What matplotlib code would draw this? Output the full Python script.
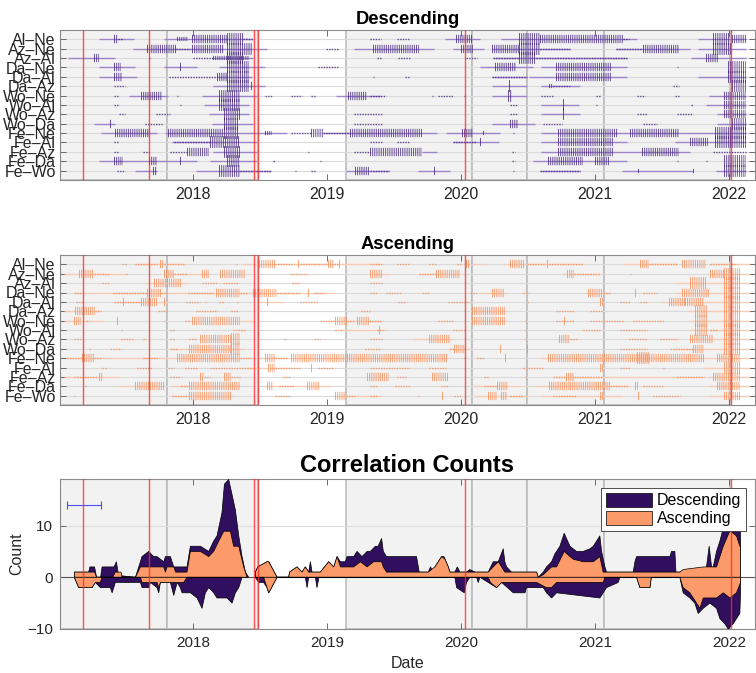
import numpy as np
import matplotlib.pyplot as plt

plt.rcParams['font.family'] = ['Liberation Sans', 'DejaVu Sans']
plt.rcParams['lines.scale_dashes'] = False

pairs = ['Al–Ne', 'Az–Ne', 'Az–Al', 'Da–Ne', 'Da–Al', 'Da–Az', 'Wo–Ne', 'Wo–Al',
         'Wo–Az', 'Wo–Da', 'Fe–Ne', 'Fe–Al', 'Fe–Az', 'Fe–Da', 'Fe–Wo']
years = [2018, 2019, 2020, 2021, 2022]

# background periods (grey) and marker dates (red)
shade_spans = [(2017.0, 2017.806), (2017.806, 2018.483), (2019.142, 2020.079),
               (2020.079, 2020.489), (2020.489, 2021.069), (2021.069, 2022.007)]
red_dates = [2017.177, 2017.669, 2018.453, 2018.483, 2020.029, 2022.014]

# descending: (row, start, end) connecting lines
desc_lines = [
    (1, 2017.30, 2017.56), (1, 2017.78, 2018.45), (1, 2019.88, 2020.14), (1, 2020.30, 2021.31), (1, 2021.77, 2022.13),
    (2, 2017.55, 2018.55), (2, 2019.20, 2019.80), (2, 2019.94, 2020.17), (2, 2020.23, 2020.81), (2, 2021.16, 2021.71), (2, 2021.77, 2022.13),
    (3, 2017.07, 2017.42), (3, 2018.15, 2018.45), (3, 2020.24, 2021.24), (3, 2021.72, 2022.13),
    (4, 2017.30, 2017.57), (4, 2017.78, 2018.03), (4, 2018.19, 2018.54), (4, 2020.14, 2020.54), (4, 2020.60, 2021.24),
    (5, 2017.30, 2017.58), (5, 2018.18, 2018.44), (5, 2020.23, 2020.49), (5, 2020.51, 2021.24), (5, 2021.77, 2022.13),
    (6, 2018.15, 2018.54), (6, 2020.23, 2020.49), (6, 2020.60, 2020.89),
    (7, 2017.52, 2017.81), (7, 2018.07, 2018.48), (7, 2019.07, 2019.40), (7, 2020.23, 2020.49), (7, 2021.85, 2022.13),
    (8, 2018.08, 2018.42), (8, 2020.60, 2020.88), (8, 2021.83, 2022.13),
    (9, 2018.12, 2018.42), (9, 2020.60, 2020.89), (9, 2021.91, 2022.13),
    (10, 2017.26, 2017.42), (10, 2018.14, 2018.45), (10, 2020.23, 2020.55), (10, 2021.91, 2022.13),
    (11, 2017.31, 2017.73), (11, 2017.79, 2018.70), (11, 2018.97, 2019.82), (11, 2019.89, 2020.29), (11, 2020.60, 2022.13),
    (12, 2017.84, 2018.48), (12, 2019.94, 2020.28), (12, 2020.60, 2021.24), (12, 2021.60, 2022.13),
    (13, 2018.15, 2018.48), (13, 2019.71, 2019.82), (13, 2020.60, 2021.71),
    (14, 2017.30, 2018.03), (14, 2018.13, 2018.48), (14, 2020.54, 2021.24),
    (15, 2017.57, 2017.73), (15, 2018.02, 2018.58), (15, 2019.14, 2019.46), (15, 2019.68, 2019.92),
    (15, 2020.59, 2020.89), (15, 2021.20, 2021.73), (15, 2021.90, 2022.13),
]

# descending: (row, start, end, kind) d=dots, s=short, m=medium, t=tall ticks
desc_marks = [
    (1, 2017.41, 2017.44, 'm'), (1, 2017.44, 2017.47, 'd'), (1, 2017.88, 2017.96, 's'), (1, 2017.99, 2018.25, 'm'),
    (1, 2018.25, 2018.37, 't'), (1, 2018.37, 2018.44, 'd'), (1, 2019.32, 2019.40, 'd'), (1, 2019.52, 2019.62, 'd'),
    (1, 2019.96, 2020.09, 'm'), (1, 2020.43, 2020.59, 't'), (1, 2020.59, 2021.21, 'm'), (1, 2021.21, 2021.25, 'd'),
    (1, 2021.88, 2022.00, 't'), (1, 2022.02, 2022.13, 'm'),
    (2, 2017.66, 2017.87, 'm'), (2, 2017.87, 2017.98, 'd'), (2, 2017.99, 2018.23, 'm'), (2, 2018.25, 2018.44, 't'),
    (2, 2018.99, 2019.09, 'd'), (2, 2019.34, 2019.69, 'm'), (2, 2020.00, 2020.09, 'm'), (2, 2020.23, 2020.43, 'm'),
    (2, 2020.43, 2020.59, 't'), (2, 2020.59, 2020.81, 'd'), (2, 2021.16, 2021.36, 'd'), (2, 2021.36, 2021.63, 'm'),
    (2, 2021.88, 2022.02, 't'),
    (3, 2017.26, 2017.30, 'm'), (3, 2017.67, 2017.67, 'd'), (3, 2018.00, 2018.15, 'd'), (3, 2018.15, 2018.42, 's'),
    (3, 2018.25, 2018.37, 't'), (3, 2019.37, 2019.41, 'd'), (3, 2019.53, 2019.62, 'd'), (3, 2020.04, 2020.12, 'd'),
    (3, 2020.24, 2020.43, 'd'), (3, 2020.43, 2020.56, 't'), (3, 2020.56, 2021.24, 'd'), (3, 2021.83, 2021.92, 'm'),
    (4, 2017.41, 2017.46, 'm'), (4, 2017.90, 2017.91, 'm'), (4, 2018.25, 2018.42, 't'), (4, 2018.93, 2019.09, 'd'),
    (4, 2020.25, 2020.41, 'm'), (4, 2020.71, 2021.13, 'm'), (4, 2021.61, 2021.61, 'd'), (4, 2021.99, 2022.13, 't'),
    (5, 2017.41, 2017.47, 'm'), (5, 2017.82, 2018.18, 'd'), (5, 2018.18, 2018.25, 'm'), (5, 2018.25, 2018.42, 't'),
    (5, 2019.34, 2019.34, 'd'), (5, 2019.58, 2019.62, 'd'), (5, 2020.23, 2020.49, 'd'), (5, 2020.71, 2021.13, 'm'),
    (5, 2021.99, 2022.13, 't'),
    (6, 2017.41, 2017.49, 'd'), (6, 2018.25, 2018.42, 't'), (6, 2018.43, 2018.43, 'm'), (6, 2020.36, 2020.36, 't'),
    (6, 2020.66, 2020.69, 's'), (6, 2020.69, 2020.81, 'd'), (6, 2021.58, 2021.63, 'd'), (6, 2022.02, 2022.13, 't'),
    (7, 2017.41, 2017.45, 'd'), (7, 2017.61, 2017.77, 'm'), (7, 2017.88, 2017.88, 'd'), (7, 2018.19, 2018.35, 't'),
    (7, 2018.54, 2018.59, 'd'), (7, 2018.73, 2018.81, 'd'), (7, 2018.88, 2018.91, 'd'), (7, 2019.16, 2019.30, 'm'),
    (7, 2019.32, 2019.44, 'd'), (7, 2019.78, 2019.78, 'd'), (7, 2019.83, 2019.94, 'd'), (7, 2020.02, 2020.02, 'd'),
    (7, 2020.35, 2020.38, 't'), (7, 2020.60, 2020.69, 'd'), (7, 2021.01, 2021.04, 'd'), (7, 2021.31, 2021.37, 'd'),
    (7, 2021.60, 2021.63, 'd'), (7, 2021.96, 2022.13, 'm'),
    (8, 2017.41, 2017.44, 'd'), (8, 2017.905, 2017.905, 'd'), (8, 2018.19, 2018.35, 't'), (8, 2020.365, 2020.415, 'd'),
    (8, 2020.758, 2020.758, 't'), (8, 2021.01, 2021.01, 'd'), (8, 2021.72, 2021.72, 'd'), (8, 2021.96, 2022.13, 'm'),
    (9, 2017.445, 2017.49, 'd'), (9, 2017.72, 2017.83, 'd'), (9, 2018.23, 2018.35, 't'), (9, 2019.20, 2019.41, 'd'),
    (9, 2020.365, 2020.415, 'd'), (9, 2020.758, 2020.758, 't'), (9, 2021.31, 2021.385, 'd'), (9, 2021.61, 2021.73, 'd'),
    (9, 2021.96, 2022.13, 'm'),
    (10, 2017.38, 2017.38, 'm'), (10, 2017.64, 2017.77, 'd'), (10, 2018.23, 2018.34, 't'), (10, 2019.20, 2019.41, 'd'),
    (10, 2020.365, 2020.427, 'm'), (10, 2020.61, 2020.75, 'd'), (10, 2021.36, 2021.46, 'd'), (10, 2022.02, 2022.13, 't'),
    (11, 2017.42, 2017.68, 'm'), (11, 2017.81, 2018.23, 'm'), (11, 2018.23, 2018.34, 't'), (11, 2018.54, 2018.59, 's'),
    (11, 2018.73, 2018.88, 'd'), (11, 2018.88, 2018.97, 'm'), (11, 2018.97, 2019.17, 'd'), (11, 2019.17, 2019.71, 'm'),
    (11, 2020.01, 2020.09, 'm'), (11, 2020.166, 2020.166, 's'), (11, 2020.39, 2020.39, 'd'), (11, 2020.725, 2021.17, 'm'),
    (11, 2021.26, 2021.63, 'm'), (11, 2021.895, 2022.13, 't'),
    (12, 2017.41, 2017.445, 'd'), (12, 2017.86, 2018.13, 'd'), (12, 2018.13, 2018.34, 't'), (12, 2019.32, 2019.41, 'd'),
    (12, 2019.52, 2019.62, 'd'), (12, 2019.94, 2020.11, 'd'), (12, 2020.14, 2020.14, 'm'), (12, 2020.725, 2021.14, 'm'),
    (12, 2021.71, 2021.845, 'm'), (12, 2021.895, 2022.13, 't'),
    (13, 2017.41, 2017.445, 'd'), (13, 2017.63, 2017.68, 'd'), (13, 2017.83, 2017.955, 'd'), (13, 2017.955, 2018.12, 'm'),
    (13, 2018.23, 2018.35, 't'), (13, 2018.86, 2018.86, 'd'), (13, 2019.20, 2019.32, 'd'), (13, 2019.32, 2019.71, 'm'),
    (13, 2020.377, 2020.40, 'd'), (13, 2020.725, 2021.14, 'm'), (13, 2021.35, 2021.63, 'm'), (13, 2021.88, 2022.13, 'd'),
    (14, 2017.41, 2017.48, 'm'), (14, 2017.67, 2017.73, 'm'), (14, 2017.905, 2017.905, 'm'), (14, 2018.25, 2018.35, 't'),
    (14, 2018.60, 2018.60, 'd'), (14, 2018.95, 2018.95, 'd'), (14, 2020.377, 2020.40, 'd'), (14, 2020.65, 2020.91, 'm'),
    (14, 2021.00, 2021.11, 'm'), (14, 2021.61, 2021.61, 'd'), (14, 2021.83, 2021.83, 'd'), (14, 2021.96, 2022.13, 't'),
    (15, 2017.43, 2017.49, 'd'), (15, 2017.70, 2017.73, 'm'), (15, 2018.19, 2018.35, 't'), (15, 2018.35, 2018.58, 'd'),
    (15, 2018.76, 2018.76, 'd'), (15, 2018.88, 2018.91, 'd'), (15, 2019.21, 2019.32, 'm'), (15, 2019.32, 2019.46, 'd'),
    (15, 2019.80, 2019.80, 'm'), (15, 2020.39, 2020.39, 'd'), (15, 2020.59, 2020.89, 'd'), (15, 2021.32, 2021.335, 's'),
    (15, 2021.733, 2021.733, 's'), (15, 2021.96, 2022.13, 't'),
]

asc_lines = [
    (1, 2017.57, 2017.93), (1, 2018.37, 2019.40), (1, 2020.04, 2020.19), (1, 2020.31, 2020.91), (1, 2021.20, 2021.61), (1, 2021.86, 2022.16),
    (2, 2017.04, 2017.51), (2, 2017.78, 2018.13), (2, 2019.32, 2019.47), (2, 2019.69, 2019.99), (2, 2020.75, 2021.04), (2, 2021.86, 2022.16),
    (3, 2017.66, 2017.96), (3, 2021.60, 2022.16),
    (4, 2017.11, 2018.55), (4, 2018.45, 2019.05), (4, 2020.14, 2020.34), (4, 2020.93, 2021.12), (4, 2021.60, 2022.16),
    (5, 2017.41, 2017.81), (5, 2018.48, 2018.68), (5, 2021.50, 2022.16),
    (6, 2017.04, 2017.31), (6, 2020.08, 2020.33), (6, 2021.70, 2022.16),
    (7, 2017.04, 2017.33), (7, 2018.35, 2018.45), (7, 2019.00, 2019.40), (7, 2020.08, 2020.33), (7, 2021.70, 2022.16),
    (8, 2019.10, 2019.45), (8, 2021.70, 2022.16),
    (9, 2019.64, 2019.94), (9, 2021.70, 2022.16),
    (10, 2017.83, 2018.39), (10, 2019.90, 2020.06), (10, 2021.60, 2022.16),
    (11, 2017.06, 2019.90), (11, 2020.60, 2022.16),
    (12, 2018.40, 2018.70), (12, 2021.80, 2022.16),
    (13, 2017.04, 2017.45), (13, 2020.70, 2021.81), (13, 2021.85, 2022.16),
    (14, 2017.45, 2017.73), (14, 2017.83, 2018.35), (14, 2018.53, 2019.03), (14, 2020.10, 2020.45), (14, 2020.55, 2021.25), (14, 2021.85, 2022.16),
    (15, 2017.83, 2018.30), (15, 2019.05, 2019.40), (15, 2020.10, 2020.50), (15, 2020.60, 2021.20), (15, 2021.85, 2022.16),
]

asc_marks = [
    (1, 2017.47, 2017.50, 'd'), (1, 2017.57, 2017.73, 'd'), (1, 2017.75, 2017.78, 'm'), (1, 2017.78, 2017.93, 'd'),
    (1, 2018.32, 2018.32, 'd'), (1, 2018.49, 2018.61, 'm'), (1, 2018.61, 2018.75, 'd'), (1, 2018.78, 2018.78, 'm'),
    (1, 2018.80, 2019.00, 'd'), (1, 2019.01, 2019.05, 'm'), (1, 2019.05, 2019.09, 'd'), (1, 2019.09, 2019.09, 'm'),
    (1, 2019.32, 2019.41, 'd'), (1, 2019.52, 2019.62, 'd'), (1, 2019.76, 2019.81, 'd'), (1, 2019.97, 2020.00, 'd'),
    (1, 2020.04, 2020.07, 'm'), (1, 2020.365, 2020.48, 'm'), (1, 2020.49, 2020.63, 'd'), (1, 2020.64, 2020.66, 'm'),
    (1, 2020.66, 2020.91, 'd'), (1, 2021.335, 2021.40, 'm'), (1, 2021.40, 2021.61, 'd'), (1, 2021.65, 2021.83, 'm'),
    (1, 2021.86, 2022.06, 'd'),
    (2, 2017.15, 2017.26, 'm'), (2, 2017.26, 2017.38, 'd'), (2, 2017.50, 2017.50, 'd'), (2, 2017.78, 2017.86, 'm'),
    (2, 2017.86, 2017.95, 'd'), (2, 2018.07, 2018.12, 'm'), (2, 2018.20, 2018.39, 'm'), (2, 2018.72, 2018.85, 'd'),
    (2, 2019.32, 2019.41, 'm'), (2, 2019.69, 2019.81, 'd'), (2, 2019.81, 2019.99, 'm'), (2, 2020.79, 2020.84, 'm'),
    (2, 2020.84, 2021.04, 'd'), (2, 2021.26, 2021.26, 'd'), (2, 2021.86, 2021.96, 'm'), (2, 2021.96, 2022.08, 't'),
    (3, 2017.32, 2017.37, 'd'), (3, 2017.71, 2017.92, 'm'), (3, 2018.07, 2018.18, 'd'), (3, 2018.22, 2018.34, 'd'),
    (3, 2018.74, 2018.80, 'd'), (3, 2019.32, 2019.42, 'd'), (3, 2021.71, 2021.83, 't'), (3, 2021.96, 2022.08, 't'),
    (4, 2017.11, 2017.17, 'd'), (4, 2017.40, 2017.66, 'd'), (4, 2017.66, 2017.76, 'm'), (4, 2017.76, 2017.81, 'd'),
    (4, 2017.96, 2018.15, 'd'), (4, 2018.17, 2018.35, 'm'), (4, 2018.35, 2018.40, 'd'), (4, 2018.45, 2018.63, 'm'),
    (4, 2018.63, 2018.80, 'd'), (4, 2018.86, 2018.86, 'm'), (4, 2018.90, 2018.97, 'd'), (4, 2019.32, 2019.37, 'd'),
    (4, 2019.44, 2019.56, 'd'), (4, 2019.71, 2019.76, 'd'), (4, 2020.07, 2020.12, 'd'), (4, 2020.23, 2020.32, 'm'),
    (4, 2020.46, 2020.51, 'd'), (4, 2020.95, 2021.06, 'm'), (4, 2021.06, 2021.12, 'd'), (4, 2021.30, 2021.30, 'm'),
    (4, 2021.36, 2021.46, 'd'), (4, 2021.65, 2021.86, 'm'), (4, 2021.96, 2022.08, 't'),
    (5, 2017.13, 2017.18, 'd'), (5, 2017.41, 2017.61, 'd'), (5, 2017.48, 2017.48, 'm'), (5, 2017.61, 2017.73, 'm'),
    (5, 2017.78, 2017.79, 'm'), (5, 2017.95, 2018.05, 'd'), (5, 2018.09, 2018.09, 'd'), (5, 2018.19, 2018.23, 'd'),
    (5, 2018.33, 2018.33, 'd'), (5, 2018.55, 2018.55, 'm'), (5, 2018.80, 2018.93, 'd'), (5, 2019.53, 2019.59, 'd'),
    (5, 2019.90, 2020.07, 'd'), (5, 2020.49, 2020.51, 'd'), (5, 2021.04, 2021.06, 'm'), (5, 2021.19, 2021.26, 'd'),
    (5, 2021.335, 2021.385, 'd'), (5, 2021.55, 2021.67, 'm'), (5, 2021.67, 2021.81, 'm'), (5, 2021.96, 2022.08, 't'),
    (6, 2017.12, 2017.27, 'm'), (6, 2017.27, 2017.31, 'd'), (6, 2017.74, 2017.81, 'd'), (6, 2018.02, 2018.18, 'd'),
    (6, 2018.28, 2018.34, 'd'), (6, 2019.25, 2019.32, 'd'), (6, 2020.08, 2020.33, 'm'), (6, 2020.71, 2020.84, 'd'),
    (6, 2020.96, 2021.06, 'd'), (6, 2021.745, 2021.845, 't'), (6, 2021.96, 2022.08, 'm'),
    (7, 2017.11, 2017.16, 'm'), (7, 2017.20, 2017.22, 'd'), (7, 2017.43, 2017.43, 'm'), (7, 2017.78, 2017.78, 'd'),
    (7, 2017.94, 2017.98, 'd'), (7, 2017.99, 2018.35, 'm'), (7, 2018.95, 2019.05, 'd'), (7, 2019.06, 2019.15, 'm'),
    (7, 2019.15, 2019.21, 'd'), (7, 2019.22, 2019.31, 'm'), (7, 2019.31, 2019.40, 'd'), (7, 2019.83, 2019.94, 'd'),
    (7, 2020.08, 2020.33, 'm'), (7, 2020.48, 2020.48, 'd'), (7, 2020.71, 2020.84, 'd'), (7, 2020.77, 2020.77, 'm'),
    (7, 2020.96, 2021.21, 'd'), (7, 2021.285, 2021.51, 'd'), (7, 2021.745, 2021.845, 't'), (7, 2021.96, 2022.08, 't'),
    (8, 2017.46, 2017.46, 'd'), (8, 2017.83, 2017.86, 'd'), (8, 2018.30, 2018.39, 'd'), (8, 2019.06, 2019.12, 'd'),
    (8, 2019.37, 2019.42, 'd'), (8, 2019.39, 2019.39, 'm'), (8, 2019.94, 2020.04, 'd'), (8, 2020.48, 2020.48, 'd'),
    (8, 2020.91, 2021.04, 'd'), (8, 2021.19, 2021.385, 'd'), (8, 2021.745, 2021.845, 't'), (8, 2021.86, 2021.91, 'd'),
    (8, 2021.96, 2022.08, 't'),
    (9, 2017.11, 2017.17, 'd'), (9, 2017.46, 2017.56, 'd'), (9, 2017.63, 2017.65, 'd'), (9, 2017.83, 2017.86, 'd'),
    (9, 2017.97, 2018.03, 'd'), (9, 2018.05, 2018.28, 'm'), (9, 2018.28, 2018.35, 't'), (9, 2018.68, 2018.70, 'd'),
    (9, 2018.90, 2018.95, 'd'), (9, 2019.32, 2019.41, 'd'), (9, 2019.76, 2019.92, 'm'), (9, 2020.48, 2020.48, 'd'),
    (9, 2020.73, 2020.81, 'm'), (9, 2020.81, 2020.87, 'd'), (9, 2021.25, 2021.385, 'd'), (9, 2021.485, 2021.61, 'd'),
    (9, 2021.71, 2021.88, 'm'), (9, 2021.96, 2022.08, 't'),
    (10, 2017.22, 2017.23, 'd'), (10, 2017.38, 2017.46, 'd'), (10, 2017.83, 2017.89, 'd'), (10, 2017.97, 2018.28, 'm'),
    (10, 2018.28, 2018.35, 't'), (10, 2019.28, 2019.40, 'd'), (10, 2019.92, 2019.95, 'd'), (10, 2019.95, 2020.03, 'm'),
    (10, 2020.29, 2020.29, 'm'), (10, 2020.49, 2020.49, 'm'), (10, 2021.186, 2021.385, 'd'), (10, 2021.56, 2021.73, 'd'),
    (10, 2021.73, 2021.81, 'm'), (10, 2021.96, 2022.08, 't'),
    (11, 2017.06, 2017.17, 'd'), (11, 2017.17, 2017.26, 'm'), (11, 2017.26, 2017.31, 'd'), (11, 2017.63, 2017.73, 'd'),
    (11, 2017.88, 2018.35, 'm'), (11, 2018.35, 2018.43, 'd'), (11, 2018.54, 2018.61, 'm'), (11, 2018.61, 2018.71, 'd'),
    (11, 2018.73, 2019.90, 'm'), (11, 2020.02, 2020.02, 'd'), (11, 2020.12, 2020.17, 'd'), (11, 2020.33, 2020.33, 'm'),
    (11, 2020.65, 2021.81, 'm'), (11, 2021.31, 2021.41, 't'), (11, 2021.91, 2022.08, 'm'),
    (12, 2017.32, 2017.35, 'd'), (12, 2017.58, 2017.69, 'd'), (12, 2017.81, 2017.86, 'd'), (12, 2017.94, 2018.03, 'd'),
    (12, 2018.13, 2018.45, 'd'), (12, 2018.56, 2018.61, 'm'), (12, 2018.61, 2018.80, 'd'), (12, 2018.88, 2018.88, 'm'),
    (12, 2018.93, 2019.05, 'd'), (12, 2019.32, 2019.62, 'd'), (12, 2019.76, 2019.89, 'd'), (12, 2020.46, 2020.61, 'd'),
    (12, 2021.04, 2021.06, 'm'), (12, 2021.19, 2021.26, 'd'), (12, 2021.51, 2021.51, 'd'), (12, 2021.96, 2022.08, 't'),
    (13, 2017.11, 2017.28, 'd'), (13, 2017.30, 2017.33, 'm'), (13, 2017.83, 2017.91, 'd'), (13, 2018.05, 2018.08, 'm'),
    (13, 2018.08, 2018.13, 'd'), (13, 2018.23, 2018.28, 'm'), (13, 2018.28, 2018.35, 'd'), (13, 2018.67, 2018.72, 'd'),
    (13, 2019.30, 2019.46, 'm'), (13, 2019.52, 2019.59, 'd'), (13, 2019.78, 2019.90, 'm'), (13, 2020.17, 2020.20, 'd'),
    (13, 2020.48, 2020.48, 'd'), (13, 2020.69, 2020.78, 'd'), (13, 2020.78, 2020.84, 'm'), (13, 2020.84, 2021.06, 'd'),
    (13, 2021.61, 2021.81, 'd'), (13, 2021.88, 2022.08, 'm'),
    (14, 2017.19, 2017.19, 'd'), (14, 2017.57, 2017.78, 'm'), (14, 2017.91, 2017.97, 'd'), (14, 2017.97, 2018.35, 'm'),
    (14, 2018.55, 2018.60, 'm'), (14, 2018.64, 2018.75, 'd'), (14, 2018.85, 2018.95, 'm'), (14, 2019.32, 2019.38, 'd'),
    (14, 2019.51, 2019.62, 'd'), (14, 2019.85, 2019.90, 'd'), (14, 2020.17, 2020.265, 'd'), (14, 2020.265, 2020.35, 'm'),
    (14, 2020.66, 2020.81, 'm'), (14, 2020.81, 2021.11, 'm'), (14, 2021.11, 2021.24, 'd'), (14, 2021.30, 2021.32, 'm'),
    (14, 2021.36, 2021.51, 'd'), (14, 2021.91, 2022.08, 'm'),
    (15, 2017.11, 2017.11, 'd'), (15, 2017.84, 2017.96, 'd'), (15, 2017.97, 2018.28, 'm'), (15, 2018.61, 2018.73, 'd'),
    (15, 2019.06, 2019.14, 'm'), (15, 2019.14, 2019.21, 'd'), (15, 2019.32, 2019.37, 'd'), (15, 2019.68, 2019.68, 'd'),
    (15, 2019.86, 2019.86, 'm'), (15, 2019.95, 2020.00, 'd'), (15, 2020.20, 2020.265, 'm'), (15, 2020.30, 2020.34, 'm'),
    (15, 2020.365, 2020.465, 'd'), (15, 2020.69, 2020.86, 'd'), (15, 2021.04, 2021.06, 'm'), (15, 2021.32, 2021.335, 'm'),
    (15, 2021.435, 2021.633, 'd'), (15, 2021.96, 2022.08, 'm'),
]

# correlation counts: stacked totals (descending on top of ascending) and ascending alone
nan = np.nan
total_pos = [
    (2017.114, 1), (2017.221, 1), (2017.23, 2), (2017.265, 2), (2017.28, 0), (2017.31, 0), (2017.321, 2), (2017.41, 2),
    (2017.428, 3), (2017.44, 1), (2017.46, 0.3), (2017.57, 0), (2017.607, 3), (2017.619, 4), (2017.669, 5), (2017.706, 4),
    (2017.731, 4), (2017.781, 3), (2017.794, 4), (2017.831, 4), (2017.856, 2), (2017.955, 2), (2017.98, 6), (2018.055, 6),
    (2018.117, 5), (2018.154, 7), (2018.179, 8), (2018.216, 12.5), (2018.234, 18), (2018.266, 18.9), (2018.291, 16),
    (2018.316, 13), (2018.341, 8), (2018.366, 4), (2018.391, 1), (2018.415, 0), (2018.44, nan),
    (2018.465, 1), (2018.483, 2), (2018.552, 3), (2018.565, 3), (2018.627, 0), (2018.714, 0), (2018.72, 1), (2018.776, 2),
    (2018.813, 1), (2018.838, 2), (2018.863, 1), (2018.876, 3), (2018.888, 1), (2018.95, 1), (2019.012, 3), (2019.05, 2),
    (2019.075, 4), (2019.10, 3), (2019.137, 3), (2019.149, 4), (2019.199, 4), (2019.224, 5), (2019.261, 4), (2019.299, 5),
    (2019.323, 5), (2019.361, 6), (2019.382, 6), (2019.407, 7.5), (2019.42, 5), (2019.444, 4), (2019.668, 4), (2019.688, 1),
    (2019.755, 1), (2019.773, 2), (2019.788, 1), (2019.805, 2), (2019.855, 4), (2019.872, 4), (2019.905, 2), (2019.917, 1),
    (2019.954, 1), (2019.972, 2), (2019.992, 1), (2020.041, 1), (2020.066, 1.5), (2020.104, 1), (2020.203, 1), (2020.24, 3),
    (2020.278, 3), (2020.315, 5.5), (2020.327, 3), (2020.34, 2), (2020.377, 1), (2020.564, 1), (2020.576, 0), (2020.614, 1),
    (2020.638, 2), (2020.676, 3), (2020.70, 4.5), (2020.738, 6), (2020.77, 8.5), (2020.813, 6), (2020.862, 5), (2020.912, 5),
    (2020.962, 5.5), (2020.987, 6), (2021.036, 8), (2021.049, 5), (2021.074, 2), (2021.086, 1), (2021.285, 1), (2021.298, 3),
    (2021.31, 4), (2021.559, 4), (2021.571, 5), (2021.596, 5), (2021.604, 1), (2021.808, 1), (2021.832, 2), (2021.852, 6),
    (2021.87, 2), (2021.882, 2), (2021.907, 5), (2021.932, 7), (2021.957, 9.5), (2022.007, 11), (2022.056, 11), (2022.086, 11),
]
asc_pos = [
    (2017.114, 1), (2017.265, 1), (2017.28, 0), (2017.40, 0), (2017.42, 1), (2017.463, 1), (2017.47, 0), (2017.57, 0),
    (2017.607, 2), (2017.781, 2), (2017.794, 1), (2017.806, 2), (2017.856, 2), (2017.87, 1), (2017.955, 1), (2017.98, 5),
    (2018.055, 5), (2018.117, 4), (2018.154, 5), (2018.192, 7), (2018.229, 8.9), (2018.279, 8.9), (2018.303, 6),
    (2018.341, 6), (2018.378, 2), (2018.403, 0), (2018.44, nan),
    (2018.465, 1), (2018.483, 2), (2018.552, 3), (2018.565, 3), (2018.627, 0), (2018.714, 0), (2018.72, 1), (2018.776, 2),
    (2018.813, 1), (2018.838, 2), (2018.863, 1), (2018.95, 1), (2019.012, 3), (2019.05, 2), (2019.075, 4), (2019.10, 2),
    (2019.199, 2), (2019.249, 3), (2019.299, 2), (2019.348, 3), (2019.407, 3), (2019.42, 2), (2019.444, 1), (2019.755, 1),
    (2019.805, 2), (2019.855, 4), (2019.88, 3.5), (2019.905, 2), (2019.917, 1), (2020.203, 1), (2020.24, 2), (2020.278, 3),
    (2020.303, 2), (2020.327, 1), (2020.564, 1), (2020.576, 0), (2020.614, 0.5), (2020.676, 2), (2020.713, 2), (2020.77, 5),
    (2020.813, 4), (2020.837, 3.5), (2020.912, 3), (2020.987, 3), (2021.036, 4), (2021.061, 1), (2021.604, 1),
    (2021.633, 1), (2021.658, 1.5), (2021.808, 2), (2021.907, 2), (2021.957, 6), (2022.007, 9), (2022.056, 8),
    (2022.081, 6), (2022.086, 6),
]
total_neg = [
    (2017.114, 0), (2017.147, -2), (2017.246, -2), (2017.271, -1), (2017.308, -2), (2017.383, -2), (2017.396, -3),
    (2017.42, -1), (2017.607, -1), (2017.62, -2), (2017.669, -2), (2017.682, -1), (2017.731, -2), (2017.744, -3),
    (2017.756, -1), (2017.831, -1), (2017.856, -3.5), (2017.881, -1), (2017.905, -2), (2017.918, -3), (2017.98, -3),
    (2018.03, -4), (2018.067, -6), (2018.092, -3), (2018.117, -2), (2018.154, -3), (2018.179, -4), (2018.254, -4),
    (2018.291, -5), (2018.316, -3), (2018.341, -2), (2018.366, 0), (2018.44, nan),
    (2018.465, 0), (2018.49, -1), (2018.527, -1), (2018.552, -2), (2018.565, -3), (2018.627, 0), (2018.838, 0),
    (2018.851, -2), (2018.863, 0), (2018.913, 0), (2018.925, -2), (2018.94, 0), (2019.954, 0), (2019.967, -2),
    (2020.024, -3), (2020.041, -1), (2020.066, 0), (2020.116, 0), (2020.128, -1), (2020.141, 0), (2020.203, -1),
    (2020.265, -2), (2020.303, -1), (2020.39, -3), (2020.477, -3), (2020.489, -2), (2020.614, -2), (2020.638, -3),
    (2020.676, -4), (2020.713, -3), (2021.036, -4), (2021.061, -3), (2021.086, -2), (2021.173, -1), (2021.186, 0),
    (2021.31, 0), (2021.335, -2), (2021.41, -2), (2021.42, 0), (2021.633, 0), (2021.658, -3), (2021.708, -4),
    (2021.745, -5), (2021.77, -7), (2021.808, -6), (2021.857, -5), (2021.907, -6), (2021.932, -8), (2021.969, -9),
    (2021.994, -10), (2022.031, -9), (2022.056, -8), (2022.081, -7), (2022.086, -3),
]
asc_neg = [
    (2017.114, 0), (2017.147, -2), (2017.246, -2), (2017.271, -1), (2017.308, -1), (2017.321, 0), (2017.607, 0),
    (2017.62, -1), (2017.731, -1), (2017.744, -2), (2017.756, -1), (2017.93, -1), (2017.955, 0), (2018.366, 0),
    (2018.44, nan),
    (2018.465, 0), (2018.527, 0), (2018.552, -2), (2018.565, -3), (2018.627, 0), (2020.203, 0), (2020.22, -1),
    (2020.265, -2), (2020.303, -1), (2020.39, -1), (2020.564, -1), (2020.638, -2), (2020.676, -2), (2020.713, -1),
    (2021.061, -1), (2021.074, 0), (2021.31, 0), (2021.335, -2), (2021.41, -2), (2021.42, 0), (2021.633, 0),
    (2021.658, -2), (2021.708, -3), (2021.758, -5), (2021.783, -6), (2021.808, -4), (2021.907, -4), (2021.957, -3),
    (2022.007, -4), (2022.056, -3), (2022.086, -1),
]
window_center, window_half, window_y = 2017.185, 0.125, 14

desc_color = '#2f0f5e'
asc_color = '#fc9a6a'
mark_style = {'d': (1.0, 1.0, 0.9), 's': (3.0, 0.7, 0.85), 'm': (6.0, 0.7, 0.85), 't': (8.5, 0.7, 0.85)}

fig = plt.figure(figsize=(7.56, 6.73), dpi=100)
left, width, height = 60 / 756, 695 / 756, 150 / 673
ax1 = fig.add_axes([left, 1 - 180 / 673, width, height])
ax2 = fig.add_axes([left, 1 - 405 / 673, width, height])
ax3 = fig.add_axes([left, 1 - 629 / 673, width, height])


def base(ax):
    for a, b in shade_spans:
        ax.axvspan(a, b, facecolor='#f2f2f2', edgecolor='#bdbdbd', lw=1.2, zorder=0)
    for d in red_dates:
        ax.axvline(d, color='#ff2a2a', lw=1.0, alpha=0.8, zorder=6)
    ax.set_xlim(2017.007, 2022.194)
    ax.set_xticks(years)
    ax.set_xticklabels([str(y) for y in years])
    ax.tick_params(direction='in', length=4, width=0.6, color='#555555', top=True, right=True,
                   labelcolor='#262626', labelsize=11.5, pad=5)
    for s in ax.spines.values():
        s.set_color('#8a8a8a')
        s.set_linewidth(0.8)


def draw_rows(ax, lines, marks, line_col, mark_col, title):
    base(ax)
    for r in range(1, 16):
        ax.axhline(r, color='#dadada', lw=0.8, zorder=1)
    for r, a, b in lines:
        ax.plot([a, b], [r, r], color=line_col, lw=1.0, alpha=0.8, solid_capstyle='butt', zorder=3)
    for r, a, b, k in marks:
        h, on, off = mark_style[k]
        b = max(b, a + 0.008)
        ax.plot([a, b], [r, r], color=mark_col, lw=h, dashes=(on, off), dash_capstyle='butt',
                alpha=0.75, zorder=4)
    ax.set_ylim(16, 0)
    ax.set_yticks(range(1, 16))
    ax.set_yticklabels(pairs, fontsize=11.5)
    ax.tick_params(axis='y', pad=3)
    ax.set_title(title, fontsize=13.2, fontweight='bold', pad=4)


draw_rows(ax1, desc_lines, desc_marks, '#8e70c6', '#3d1a7a', 'Descending')
draw_rows(ax2, asc_lines, asc_marks, '#fdc9ad', '#f8874f', 'Ascending')

# counts panel
base(ax3)
ax3.axhline(10, color='#dcdcdc', lw=0.8, zorder=1)
ax3.axhline(0, color='#555555', lw=0.8, zorder=1)
tp = np.array(total_pos).T
ap = np.array(asc_pos).T
tn = np.array(total_neg).T
an = np.array(asc_neg).T
h_desc = ax3.fill_between(tp[0], 0, tp[1], facecolor=desc_color, edgecolor='k', lw=0.5, zorder=3,
                          label='Descending')
h_asc = ax3.fill_between(ap[0], 0, ap[1], facecolor=asc_color, edgecolor='k', lw=0.5, zorder=4,
                         label='Ascending')
ax3.fill_between(tn[0], 0, tn[1], facecolor=desc_color, edgecolor='k', lw=0.5, zorder=3)
ax3.fill_between(an[0], 0, an[1], facecolor=asc_color, edgecolor='k', lw=0.5, zorder=4)
ax3.errorbar([window_center], [window_y], xerr=[window_half], color='#4d4dff', lw=0.8,
             capsize=3, capthick=0.8, zorder=5)
ax3.set_ylim(-10, 19)
ax3.set_yticks([-10, 0, 10])
ax3.tick_params(labelsize=11)
ax3.set_title('Correlation Counts', fontsize=17, fontweight='bold', pad=5)
ax3.set_xlabel('Date', fontsize=11.5, color='#262626', labelpad=4)
ax3.set_ylabel('Count', fontsize=11.5, color='#262626', labelpad=2)
leg = ax3.legend(handles=[h_desc, h_asc], loc='upper right', fontsize=11.5, fancybox=False,
                 framealpha=1, edgecolor='#333333', borderaxespad=0.55, handlelength=2.9,
                 handleheight=1.0, borderpad=0.3, labelspacing=0.15, handletextpad=0.3)
leg.get_frame().set_linewidth(0.6)
leg.set_zorder(10)

fig.savefig('out.png', dpi=100)
